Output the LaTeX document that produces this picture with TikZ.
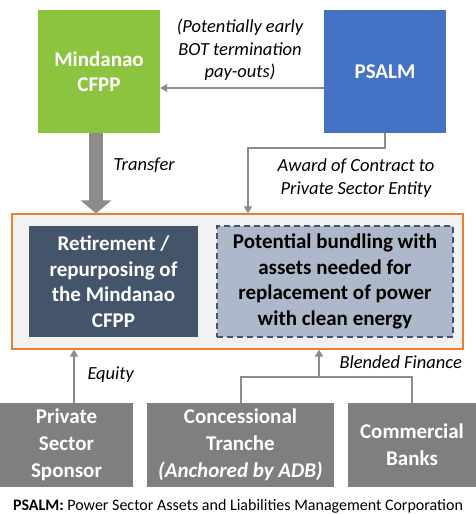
\documentclass[tikz,border=0pt]{standalone}
\usepackage{fontspec}
\setmainfont{Carlito}
\usetikzlibrary{arrows.meta, positioning}
\definecolor{plantgreen}{HTML}{8DC43F}
\definecolor{psalmblue}{HTML}{4472C4}
\definecolor{slate}{HTML}{44546A}
\definecolor{paleslate}{HTML}{ADB9CA}
\definecolor{fundgray}{HTML}{7F7F7F}
\definecolor{linkgray}{HTML}{8C8C8C}
\definecolor{frameorange}{HTML}{ED7D31}
\tikzset{
  block/.style={rectangle,inner sep=0pt,align=center,text=white,
    font=\fontsize{21}{25.5}\selectfont\bfseries},
  fund/.style={block,fill=fundgray,minimum height=84pt,font=\fontsize{21}{27}\selectfont\bfseries},
  note/.style={align=center,font=\fontsize{18.5}{22.5}\selectfont\itshape},
  link/.style={draw=linkgray,line width=2pt,-{Triangle[width=8pt,length=7pt]}},
  joint/.style={draw=linkgray,line width=2pt}
}

\begin{document}
\begin{tikzpicture}[x=1pt,y=-1pt]
\useasboundingbox (0,0) rectangle (476,514);
% top row
\node[block,fill=plantgreen,minimum width=122pt,minimum height=123pt] (cfpp) at (99,71.5) {Mindanao\\CFPP};
\node[block,fill=psalmblue,minimum width=122pt,minimum height=123pt] (psalm) at (385,71.5) {PSALM};
% transaction frame
\node[draw=frameorange,line width=1.2pt,fill=black!5,minimum width=451pt,minimum height=135pt] (frame) at (237.5,281.5) {};
\node[block,fill=slate,minimum width=169pt,minimum height=111pt] (retire) at (113.5,281.5) {Retirement /\\repurposing of\\the Mindanao\\CFPP};
\node[block,text=black,fill=paleslate,draw=slate,line width=1.5pt,dash pattern=on 6pt off 4pt,
  minimum width=236pt,minimum height=111pt] (bundle) at (335,281.5) {Potential bundling with\\assets needed for\\replacement of power\\with clean energy};
% funding sources
\node[fund,minimum width=133pt] (sponsor) at (66.5,445) {Private\\Sector\\Sponsor};
\node[fund,minimum width=187pt] (tranche) at (240.5,445) {Concessional\\Tranche\\{\itshape(Anchored by ADB)}};
\node[fund,minimum width=128pt] (banks) at (412,445) {Commercial\\Banks};
% flows
\draw[link] (psalm.west |- 0,88) -- (cfpp.east |- 0,88);
\node[note] (payout) at (240,50) {(Potentially early\\BOT termination\\pay-outs)};
\draw[draw=linkgray,line width=14pt,-{Triangle[width=30pt,length=13pt]}] ([xshift=-3pt]cfpp.south) -- ([xshift=-3pt]cfpp.south |- frame.north);
\node[note,anchor=west] (transfer) at (110,165) {Transfer};
\coordinate (award) at (248,148);
\draw[link] (psalm.south) |- (award) -- (award |- frame.north);
\node[note,anchor=east] (contract) at (438,178) {Award of Contract to\\Private Sector Entity};
\draw[link] ([xshift=7.5pt]sponsor.north) -- ([xshift=7.5pt]sponsor.north |- frame.south);
\node[note,anchor=west] (equity) at (84,375) {Equity};
\coordinate (blend) at (319,377);
\draw[joint] (tranche.north) |- (blend) -| (banks.north);
\draw[link] (blend) -- (blend |- frame.south);
\node[note,anchor=west] (blended) at (336,362) {Blended Finance};
% footnote
\node[font=\fontsize{16}{18}\selectfont] (legend) at (238,506) {\textbf{PSALM:} Power Sector Assets and Liabilities Management Corporation};
\end{tikzpicture}
\end{document}
